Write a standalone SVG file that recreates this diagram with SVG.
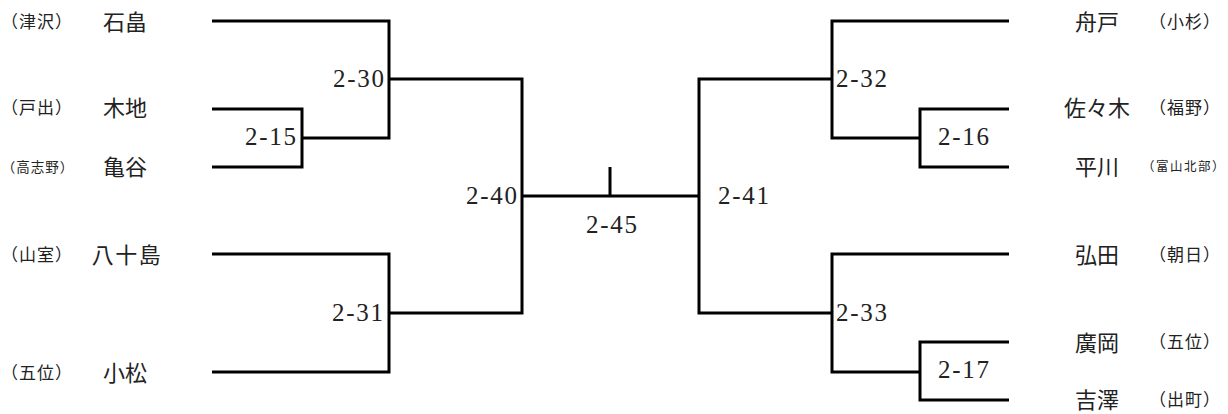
<svg xmlns="http://www.w3.org/2000/svg" width="1228" height="414" viewBox="0 0 1228 414">
<style>
.ln{fill:none;stroke:#000;stroke-width:3;stroke-linejoin:miter}
.num{font-family:"Liberation Serif","Noto Sans CJK JP",serif;font-size:25px;fill:#222}
.nm{font-family:"Noto Sans CJK JP",sans-serif;font-size:22px;fill:#222;text-anchor:middle}
.sc{font-family:"Noto Sans CJK JP",sans-serif;font-size:17px;fill:#222;text-anchor:middle;letter-spacing:1px}
.ss{font-family:"Noto Sans CJK JP",sans-serif;font-size:12.5px;fill:#222;text-anchor:middle;letter-spacing:1.5px}
.e{text-anchor:end}
</style>
<rect width="1228" height="414" fill="#fff"/>
<g id="connectors">
<path class="ln" d="M212 21 H389 V138 H302"/>
<path class="ln" d="M212 109 H302 V167 H212"/>
<path class="ln" d="M389 79 H522 V313 H389"/>
<path class="ln" d="M212 254 H389 V372 H212"/>
<path class="ln" d="M522 196 H699"/>
<path class="ln" d="M610 167 V196"/>
<path class="ln" d="M832 79 H699 V313 H832"/>
<path class="ln" d="M1009 21 H832 V138 H920"/>
<path class="ln" d="M1009 109 H920 V167 H1009"/>
<path class="ln" d="M1009 254 H832 V372 H920"/>
<path class="ln" d="M1009 342 H920 V400 H1009"/>
</g>
<g id="match-labels">
<text class="num e" x="384" y="87" textLength="51">2-30</text>
<text class="num e" x="296" y="145" textLength="51">2-15</text>
<text class="num e" x="383" y="321" textLength="51">2-31</text>
<text class="num e" x="517" y="204" textLength="51">2-40</text>
<text class="num" x="586" y="233" textLength="51">2-45</text>
<text class="num" x="718" y="204" textLength="51">2-41</text>
<text class="num" x="836" y="87" textLength="51">2-32</text>
<text class="num" x="938" y="145" textLength="51">2-16</text>
<text class="num" x="836" y="321" textLength="51">2-33</text>
<text class="num" x="938" y="378" textLength="51">2-17</text>
</g>
<g id="team-ishibata"><text class="sc" x="37" y="28">（津沢）</text><text class="nm" x="125" y="30">石畠</text></g>
<g id="team-kiji"><text class="sc" x="37" y="114">（戸出）</text><text class="nm" x="125" y="116">木地</text></g>
<g id="team-kametani"><text class="sc" x="38" y="172" style="font-size:13.5px">（高志野）</text><text class="nm" x="125" y="175">亀谷</text></g>
<g id="team-yasojima"><text class="sc" x="37" y="261">（山室）</text><text class="nm" x="127" y="263" style="letter-spacing:1.5px">八十島</text></g>
<g id="team-komatsu"><text class="sc" x="37" y="379">（五位）</text><text class="nm" x="125" y="381">小松</text></g>
<g id="team-funato"><text class="nm" x="1097" y="30">舟戸</text><text class="sc" x="1185" y="28">（小杉）</text></g>
<g id="team-sasaki"><text class="nm" x="1097" y="116">佐々木</text><text class="sc" x="1185" y="114">（福野）</text></g>
<g id="team-hirakawa"><text class="nm" x="1097" y="175">平川</text><text class="ss" x="1184" y="171">（富山北部）</text></g>
<g id="team-hirota"><text class="nm" x="1097" y="263">弘田</text><text class="sc" x="1185" y="261">（朝日）</text></g>
<g id="team-hirooka"><text class="nm" x="1097" y="351">廣岡</text><text class="sc" x="1185" y="348">（五位）</text></g>
<g id="team-yoshizawa"><text class="nm" x="1097" y="408">吉澤</text><text class="sc" x="1185" y="406">（出町）</text></g>
</svg>
